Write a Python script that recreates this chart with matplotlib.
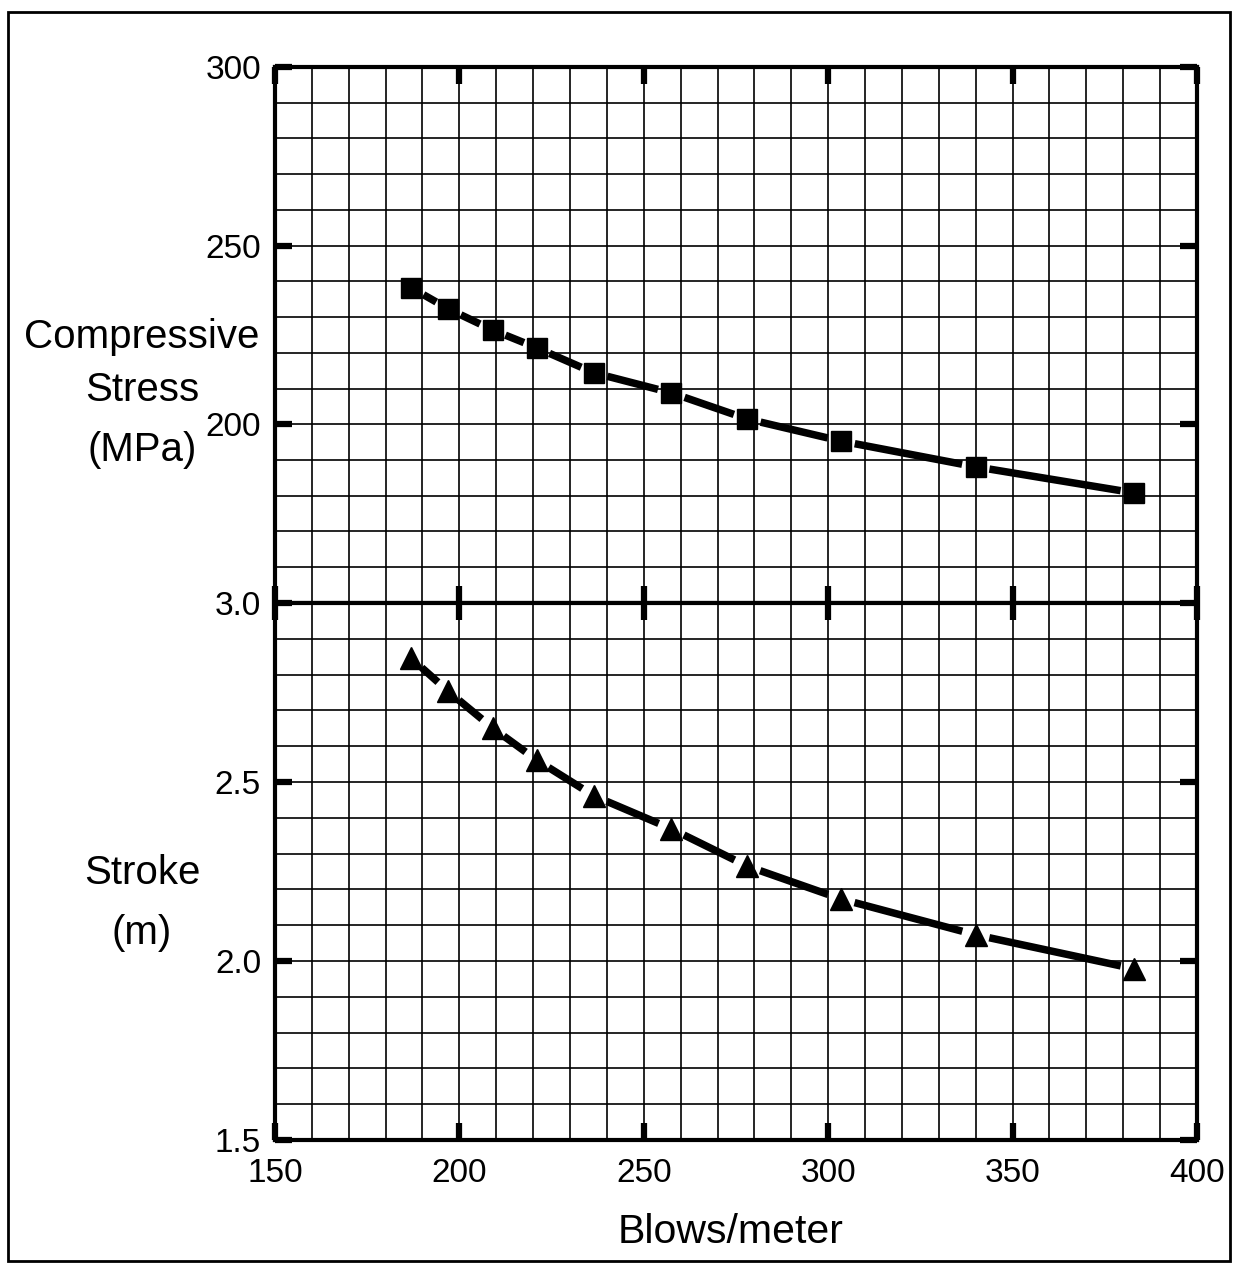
import numpy as np
import matplotlib
matplotlib.use("Agg")
from matplotlib import pyplot as plt
from matplotlib.patches import Rectangle

plt.rcParams['font.family'] = ['Liberation Sans', 'DejaVu Sans']

# data
blows = [187, 197, 209, 221, 236.5, 257.5, 278, 303.5, 340, 383]
stress = [238.2, 232.3, 226.4, 221.4, 214.4, 208.8, 201.5, 195.3, 188.1, 180.8]
stroke = [2.845, 2.753, 2.651, 2.561, 2.461, 2.369, 2.265, 2.173, 2.073, 1.978]

x_ticks = [150, 200, 250, 300, 350, 400]
stress_ticks = [200, 250, 300]
stroke_ticks = [1.5, 2.0, 2.5, 3.0]

fig = plt.figure(figsize=(12.38, 12.71), dpi=100)
L, R = 0.2221, 0.9669
mid, top, bot = 0.5256, 0.9473, 0.1031
ax1 = fig.add_axes([L, mid, R - L, top - mid])
ax2 = fig.add_axes([L, bot, R - L, mid - bot], sharex=ax1)


def style(ax, ylim, yminor, yticks, ylabels):
    ax.set_xlim(150, 400)
    ax.set_ylim(*ylim)
    ax.set_xticks(x_ticks)
    ax.set_xticks(np.arange(150, 401, 10), minor=True)
    ax.set_yticks(yticks)
    ax.set_yticklabels(ylabels)
    ax.set_yticks(np.arange(ylim[0], ylim[1] + yminor / 2, yminor), minor=True)
    ax.grid(True, which='both', color='black', lw=1.2)
    ax.set_axisbelow(True)
    ax.tick_params(which='major', direction='in', length=12, width=4.5,
                   top=True, right=True, labelsize=24, pad=10)
    ax.tick_params(which='minor', length=0)
    for s in ax.spines.values():
        s.set_linewidth(3)


style(ax1, (150, 300), 10, stress_ticks, [str(t) for t in stress_ticks])
style(ax2, (1.5, 3.0), 0.1, stroke_ticks, ['%.1f' % t for t in stroke_ticks])
ax1.tick_params(labelbottom=False)
ax2.tick_params(axis='x', pad=13)
ax2.set_xticklabels([str(t) for t in x_ticks])


def connect(ax, xs, ys, shrink):
    for i in range(len(xs) - 1):
        ax.annotate('', xy=(xs[i + 1], ys[i + 1]), xytext=(xs[i], ys[i]),
                    arrowprops=dict(arrowstyle='-', lw=5.4, color='black',
                                    shrinkA=shrink, shrinkB=shrink,
                                    capstyle='butt'))


connect(ax1, blows, stress, 10)
ax1.plot(blows, stress, 's', color='black', ms=14.5, zorder=5)
connect(ax2, blows, stroke, 10)
ax2.plot(blows, stroke, '^', color='black', ms=15.5, zorder=5)

fig.text(0.1147, 0.735, 'Compressive', fontsize=29, ha='center', va='center')
fig.text(0.1147, 0.6935, 'Stress', fontsize=29, ha='center', va='center')
fig.text(0.1147, 0.646, '(MPa)', fontsize=29, ha='center', va='center')
fig.text(0.1147, 0.3132, 'Stroke', fontsize=29, ha='center', va='center')
fig.text(0.1147, 0.266, '(m)', fontsize=29, ha='center', va='center')
fig.text(0.5905, 0.031, 'Blows/meter', fontsize=29.5, ha='center', va='center')

fig.patches.append(Rectangle((0.0065, 0.0075), 0.987, 0.983, transform=fig.transFigure,
                             fill=False, lw=2, color='black'))

fig.savefig('out.png', dpi=100)
